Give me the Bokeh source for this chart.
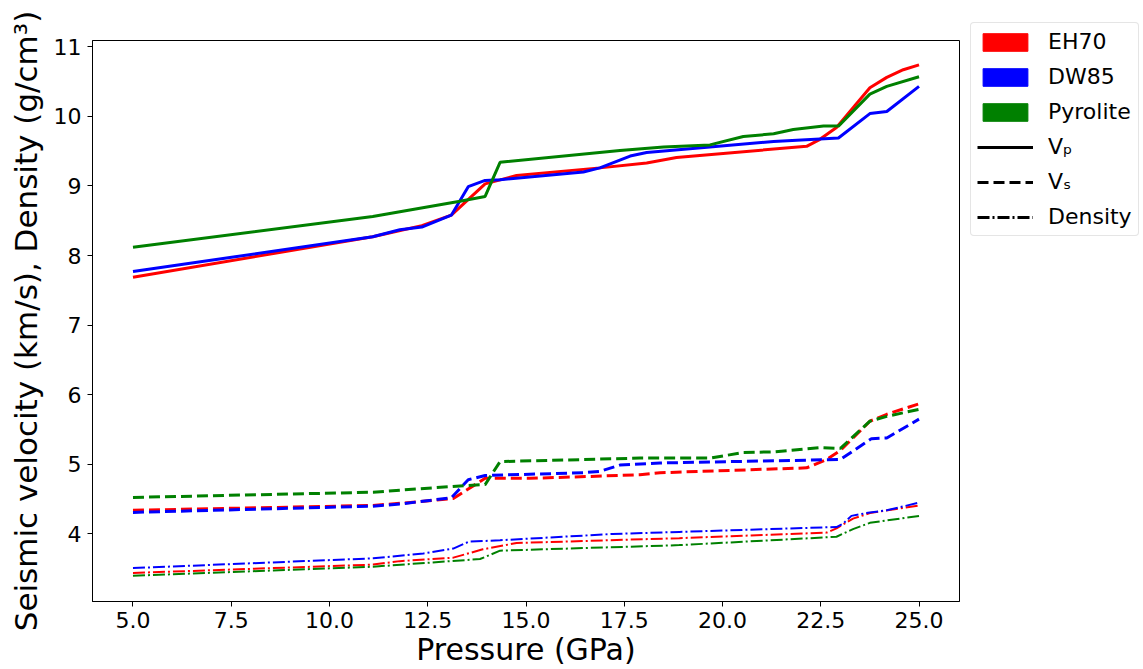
import numpy as np
from bokeh.plotting import figure
from bokeh.layouts import row, column
from bokeh.models import Range1d, Legend, LegendItem
from bokeh.embed import file_html
from bokeh.resources import INLINE

# ---- data ----
eh_vp_p = [5, 11.1, 11.8, 12.35, 13.1, 13.96, 14.76, 16.88, 18.07, 18.83, 22.14, 22.48, 22.9, 23.75, 24.18, 24.6, 25]
eh_vp = [7.69, 8.27, 8.36, 8.43, 8.58, 9.03, 9.15, 9.26, 9.33, 9.41, 9.57, 9.67, 9.84, 10.41, 10.56, 10.67, 10.74]
eh_vs_p = [5, 11.1, 11.79, 13.15, 13.96, 15.1, 17.9, 18.41, 22.14, 22.65, 23.0, 23.75, 24.18, 25]
eh_vs = [4.34, 4.41, 4.44, 4.51, 4.80, 4.80, 4.85, 4.88, 4.95, 5.07, 5.20, 5.62, 5.72, 5.87]
eh_rho_p = [5, 11.11, 11.79, 13.15, 13.9, 14.76, 18.9, 22.65, 22.9, 23.32, 23.75, 25]
eh_rho = [3.44, 3.56, 3.61, 3.66, 3.78, 3.87, 3.94, 4.02, 4.08, 4.22, 4.30, 4.41]

dw_vp_p = [5, 11.1, 11.79, 12.35, 13.1, 13.53, 13.96, 14.34, 16.46, 16.88, 17.65, 18.07, 19.68, 21.3, 22.95, 23.75, 24.18, 25]
dw_vp = [7.77, 8.27, 8.37, 8.41, 8.58, 8.99, 9.08, 9.09, 9.20, 9.26, 9.43, 9.48, 9.56, 9.64, 9.69, 10.04, 10.07, 10.43]
dw_vs_p = [5, 11.1, 11.79, 13.1, 13.53, 13.96, 16.46, 16.88, 17.39, 18.41, 23.0, 23.79, 24.18, 25]
dw_vs = [4.31, 4.40, 4.43, 4.52, 4.78, 4.84, 4.88, 4.90, 4.99, 5.02, 5.07, 5.37, 5.38, 5.65]
dw_rho_p = [5, 11.11, 12.39, 13.15, 13.55, 14.34, 17.2, 18.9, 22.9, 23.07, 23.28, 23.75, 24.18, 25]
dw_rho = [3.51, 3.65, 3.72, 3.79, 3.89, 3.91, 4.00, 4.03, 4.10, 4.15, 4.26, 4.31, 4.34, 4.45]

py_vp_p = [5, 11.1, 11.79, 13.32, 13.96, 14.34, 17.39, 18.5, 19.68, 20.53, 21.3, 21.8, 22.57, 22.95, 23.75, 24.18, 25]
py_vp = [8.12, 8.56, 8.63, 8.78, 8.85, 9.34, 9.51, 9.56, 9.59, 9.71, 9.75, 9.81, 9.86, 9.86, 10.32, 10.43, 10.57]
py_vs_p = [5, 11.11, 11.79, 13.32, 13.96, 14.34, 17.9, 19.68, 20.53, 21.3, 22.48, 23.0, 23.75, 24.18, 25]
py_vs = [4.525, 4.60, 4.63, 4.69, 4.71, 5.04, 5.09, 5.09, 5.17, 5.18, 5.24, 5.23, 5.62, 5.69, 5.79]
py_rho_p = [5, 11.11, 13.83, 14.34, 18.9, 22.9, 23.32, 23.75, 25]
py_rho = [3.40, 3.53, 3.64, 3.76, 3.84, 3.96, 4.07, 4.16, 4.26]

compositions = ["EH70", "DW85", "Pyrolite"]
colors = ["#ff0000", "#0000ff", "#008000"]
x_ticks = [5.0, 7.5, 10.0, 12.5, 15.0, 17.5, 20.0, 22.5, 25.0]
y_ticks = [4, 5, 6, 7, 8, 9, 10, 11]

series = [
    ((eh_vp_p, eh_vp), (eh_vs_p, eh_vs), (eh_rho_p, eh_rho)),
    ((dw_vp_p, dw_vp), (dw_vs_p, dw_vs), (dw_rho_p, dw_rho)),
    ((py_vp_p, py_vp), (py_vs_p, py_vs), (py_rho_p, py_rho)),
]

FONT = "DejaVu Sans"

p = figure(width=970, height=669, output_backend="svg", toolbar_location=None,
           x_range=Range1d(3.97, 26.03), y_range=Range1d(3.03, 11.09),
           min_border_left=92, min_border_right=11, min_border_top=40, min_border_bottom=67)

p.xgrid.visible = False
p.ygrid.visible = False
p.outline_line_color = "black"
p.outline_line_width = 1
p.background_fill_color = "white"
p.border_fill_color = "white"

for ax in (p.xaxis[0], p.yaxis[0]):
    ax.axis_line_color = "black"
    ax.major_tick_line_color = "black"
    ax.major_tick_out = 5
    ax.major_tick_in = 0
    ax.minor_tick_line_color = None
    ax.major_label_text_font = FONT
    ax.major_label_text_font_size = "22px"
    ax.major_label_text_color = "black"
    ax.axis_label_text_font = FONT
    ax.axis_label_text_font_style = "normal"
    ax.axis_label_text_color = "black"

p.xaxis.ticker = x_ticks
p.xaxis.major_label_overrides = {t: f"{t:.1f}" for t in x_ticks}
p.yaxis.ticker = y_ticks
p.xaxis.axis_label = "Pressure (GPa)"
p.xaxis.axis_label_text_font_size = "30px"
p.xaxis.axis_label_standoff = 1
p.yaxis.axis_label = "Seismic velocity (km/s), Density (g/cm\u00b3)"
p.yaxis.axis_label_text_font_size = "31px"
p.yaxis.axis_label_standoff = 7
p.yaxis.major_label_standoff = 6

for (vp, vs, rho), c in zip(series, colors):
    p.line(vp[0], vp[1], line_color=c, line_width=3)
    p.line(vs[0], vs[1], line_color=c, line_width=3, line_dash="11 5")
    p.line(rho[0], rho[1], line_color=c, line_width=2, line_dash="12 3 2 3")

# ---- legend panel (separate figure to the right) ----
p2 = figure(width=173, height=669, output_backend="svg", toolbar_location=None,
            title=None,
            x_range=Range1d(0, 1), y_range=Range1d(0, 1),
            x_axis_location=None, y_axis_location=None,
            min_border_left=0, min_border_right=0,
            min_border_top=22, min_border_bottom=0)
p2.xgrid.visible = False
p2.ygrid.visible = False
p2.outline_line_color = None
p2.border_fill_color = "white"

items = []
for name, c in zip(compositions, colors):
    r = p2.rect(x=[np.nan], y=[np.nan], width=1, height=1, fill_color=c, line_color=c)
    items.append(LegendItem(label=name, renderers=[r]))
for lab, dash, lw in [("V\u209a", "solid", 3), ("V\u209b", "11 5", 3), ("Density", "12 3 2 3", 3)]:
    r = p2.line(x=[np.nan, np.nan], y=[np.nan, np.nan], line_color="black", line_width=lw, line_dash=dash)
    items.append(LegendItem(label=lab, renderers=[r]))

legend = Legend(items=items, location="top_left")
legend.label_text_font = FONT
legend.label_text_font_size = "22px"
legend.label_text_color = "black"
legend.glyph_width = 56
legend.glyph_height = 22
legend.label_height = 22
legend.spacing = 10
legend.padding = 6
legend.margin = 0
legend.border_line_color = "#cccccc"
legend.border_line_width = 1
legend.border_radius = 4
legend.background_fill_alpha = 1
legend.label_standoff = 15
p2.add_layout(legend)

layout = row(p, column(p2, spacing=0), spacing=0)
open("out.html", "w").write(file_html(layout, INLINE))
